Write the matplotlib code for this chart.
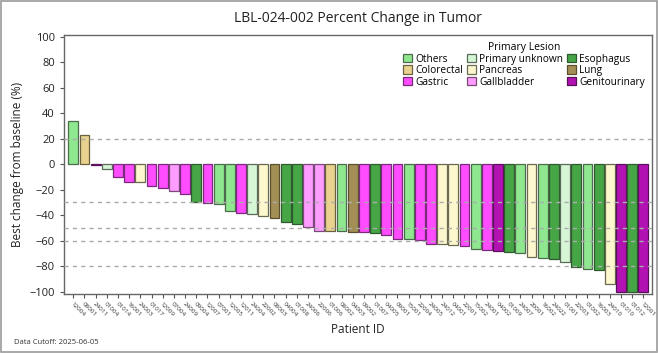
import matplotlib
matplotlib.use("Agg")
import matplotlib.pyplot as plt
from matplotlib.patches import Patch, Rectangle

plt.rcParams['font.family'] = ['Open Sans', 'DejaVu Sans']

patient_ids = ["12004", "08001", "24011", "01004", "01014", "16001", "24003", "01017",
               "12009", "07004", "24009", "09004", "12007", "07001", "12005", "12011",
               "24004", "22002", "08003", "04004", "01008", "24006", "22006", "01006",
               "08002", "04003", "09002", "01007", "04005", "09001", "15001", "22004",
               "24005", "24012", "04001", "22001", "15002", "24001", "04002", "01009",
               "24007", "20001", "16002", "24022", "01001", "22003", "01002", "16003",
               "24010", "01010", "01012", "12001"]

pct_change = [34, 23, -1, -4, -10, -14, -14, -17,
              -19, -21, -23.5, -30, -30.5, -31.5, -36.5, -38,
              -39, -41, -42.5, -45, -46.5, -49.5, -52, -52.3,
              -52.5, -52.8, -53.5, -54, -55.5, -58.5, -58.8, -59.6,
              -62.4, -62.6, -63.7, -64.5, -66.6, -67, -68, -69,
              -70, -73, -73.6, -74.2, -77, -80.7, -82.3, -83.3,
              -94, -100, -100, -100]

lesion = ["Others", "Colorectal", "Genitourinary", "Primary unknown", "Gastric", "Gastric",
          "Pancreas", "Gastric", "Gastric", "Gallbladder", "Gastric", "Esophagus",
          "Gastric", "Others", "Others", "Gastric", "Primary unknown", "Pancreas",
          "Lung", "Esophagus", "Esophagus", "Gallbladder", "Gallbladder", "Colorectal",
          "Others", "Lung", "Gastric", "Esophagus", "Gastric", "Gastric",
          "Others", "Gastric", "Gastric", "Pancreas", "Pancreas", "Gastric",
          "Others", "Gastric", "Genitourinary", "Esophagus", "Others", "Pancreas",
          "Others", "Esophagus", "Primary unknown", "Esophagus", "Others", "Esophagus",
          "Pancreas", "Genitourinary", "Esophagus", "Genitourinary"]

legend_order = ["Others", "Colorectal", "Gastric",
                "Primary unknown", "Pancreas", "Gallbladder",
                "Esophagus", "Lung", "Genitourinary"]

fill_colors = {
    "Others": "#8fe88f",
    "Primary unknown": "#d6f6d6",
    "Esophagus": "#46a646",
    "Colorectal": "#e8d28e",
    "Pancreas": "#fcf7cc",
    "Lung": "#a38e56",
    "Gastric": "#ff4cff",
    "Gallbladder": "#ff9cff",
    "Genitourinary": "#b312b3",
}
edge_colors = {
    "Others": "#4d6b4d",
    "Primary unknown": "#5a6b5a",
    "Esophagus": "#2f5a2f",
    "Colorectal": "#6b6040",
    "Pancreas": "#6b6a50",
    "Lung": "#5a5030",
    "Gastric": "#7a2a7a",
    "Gallbladder": "#7a4a7a",
    "Genitourinary": "#5a105a",
}

ref_lines = [20, -30, -50, -60, -80]

fig = plt.figure(figsize=(6.58, 3.53), dpi=100)
fig.patches.append(Rectangle((0.001, 0.002), 0.997, 0.995, transform=fig.transFigure,
                             fill=False, edgecolor="#9a9a9a", linewidth=1.2))
ax = fig.add_axes([0.0973, 0.167, 0.894, 0.734])

x = list(range(len(pct_change)))
ax.bar(x, pct_change, width=0.88,
       color=[fill_colors[c] for c in lesion],
       edgecolor=[edge_colors[c] for c in lesion],
       linewidth=0.9, zorder=2)

for yv in ref_lines:
    ax.axhline(yv, color="#ababab", linestyle=(0, (3, 3)), linewidth=1.0, zorder=3)

ax.set_xlim(-0.83, 51.8)
ax.set_ylim(-101.8, 101.3)
ax.set_yticks(range(-100, 101, 20))
ax.tick_params(axis='y', labelsize=8, length=3, color="#555555", labelcolor="#222222")
ax.set_xticks(x)
ax.set_xticklabels(patient_ids, rotation=-45, ha='left', va='top',
                   rotation_mode='anchor', fontsize=4.5, color="#333333")
ax.tick_params(axis='x', length=3, color="#555555", pad=2)
for s in ax.spines.values():
    s.set_color("#666666")
    s.set_linewidth(1.0)

ax.set_ylabel("Best change from baseline (%)", fontsize=8.5, color="#222222", labelpad=4)
ax.set_xlabel("Patient ID", fontsize=8.5, color="#222222", labelpad=4)
ax.set_title("LBL-024-002 Percent Change in Tumor", fontsize=10, color="#222222", pad=9)

handles = [Patch(facecolor=fill_colors[c], edgecolor=edge_colors[c], linewidth=0.9, label=c)
           for c in legend_order]
leg = ax.legend(handles=handles, title="Primary Lesion", ncol=3, loc="upper right",
                frameon=False, fontsize=7.3, title_fontsize=7.5,
                handlelength=0.9, handleheight=0.9, handletextpad=0.3,
                columnspacing=0.4, labelspacing=0.05, borderaxespad=0.3)

fig.text(0.022, 0.025, "Data Cutoff: 2025-06-05", fontsize=5.5, color="#333333")

fig.savefig("out.png", dpi=100)
